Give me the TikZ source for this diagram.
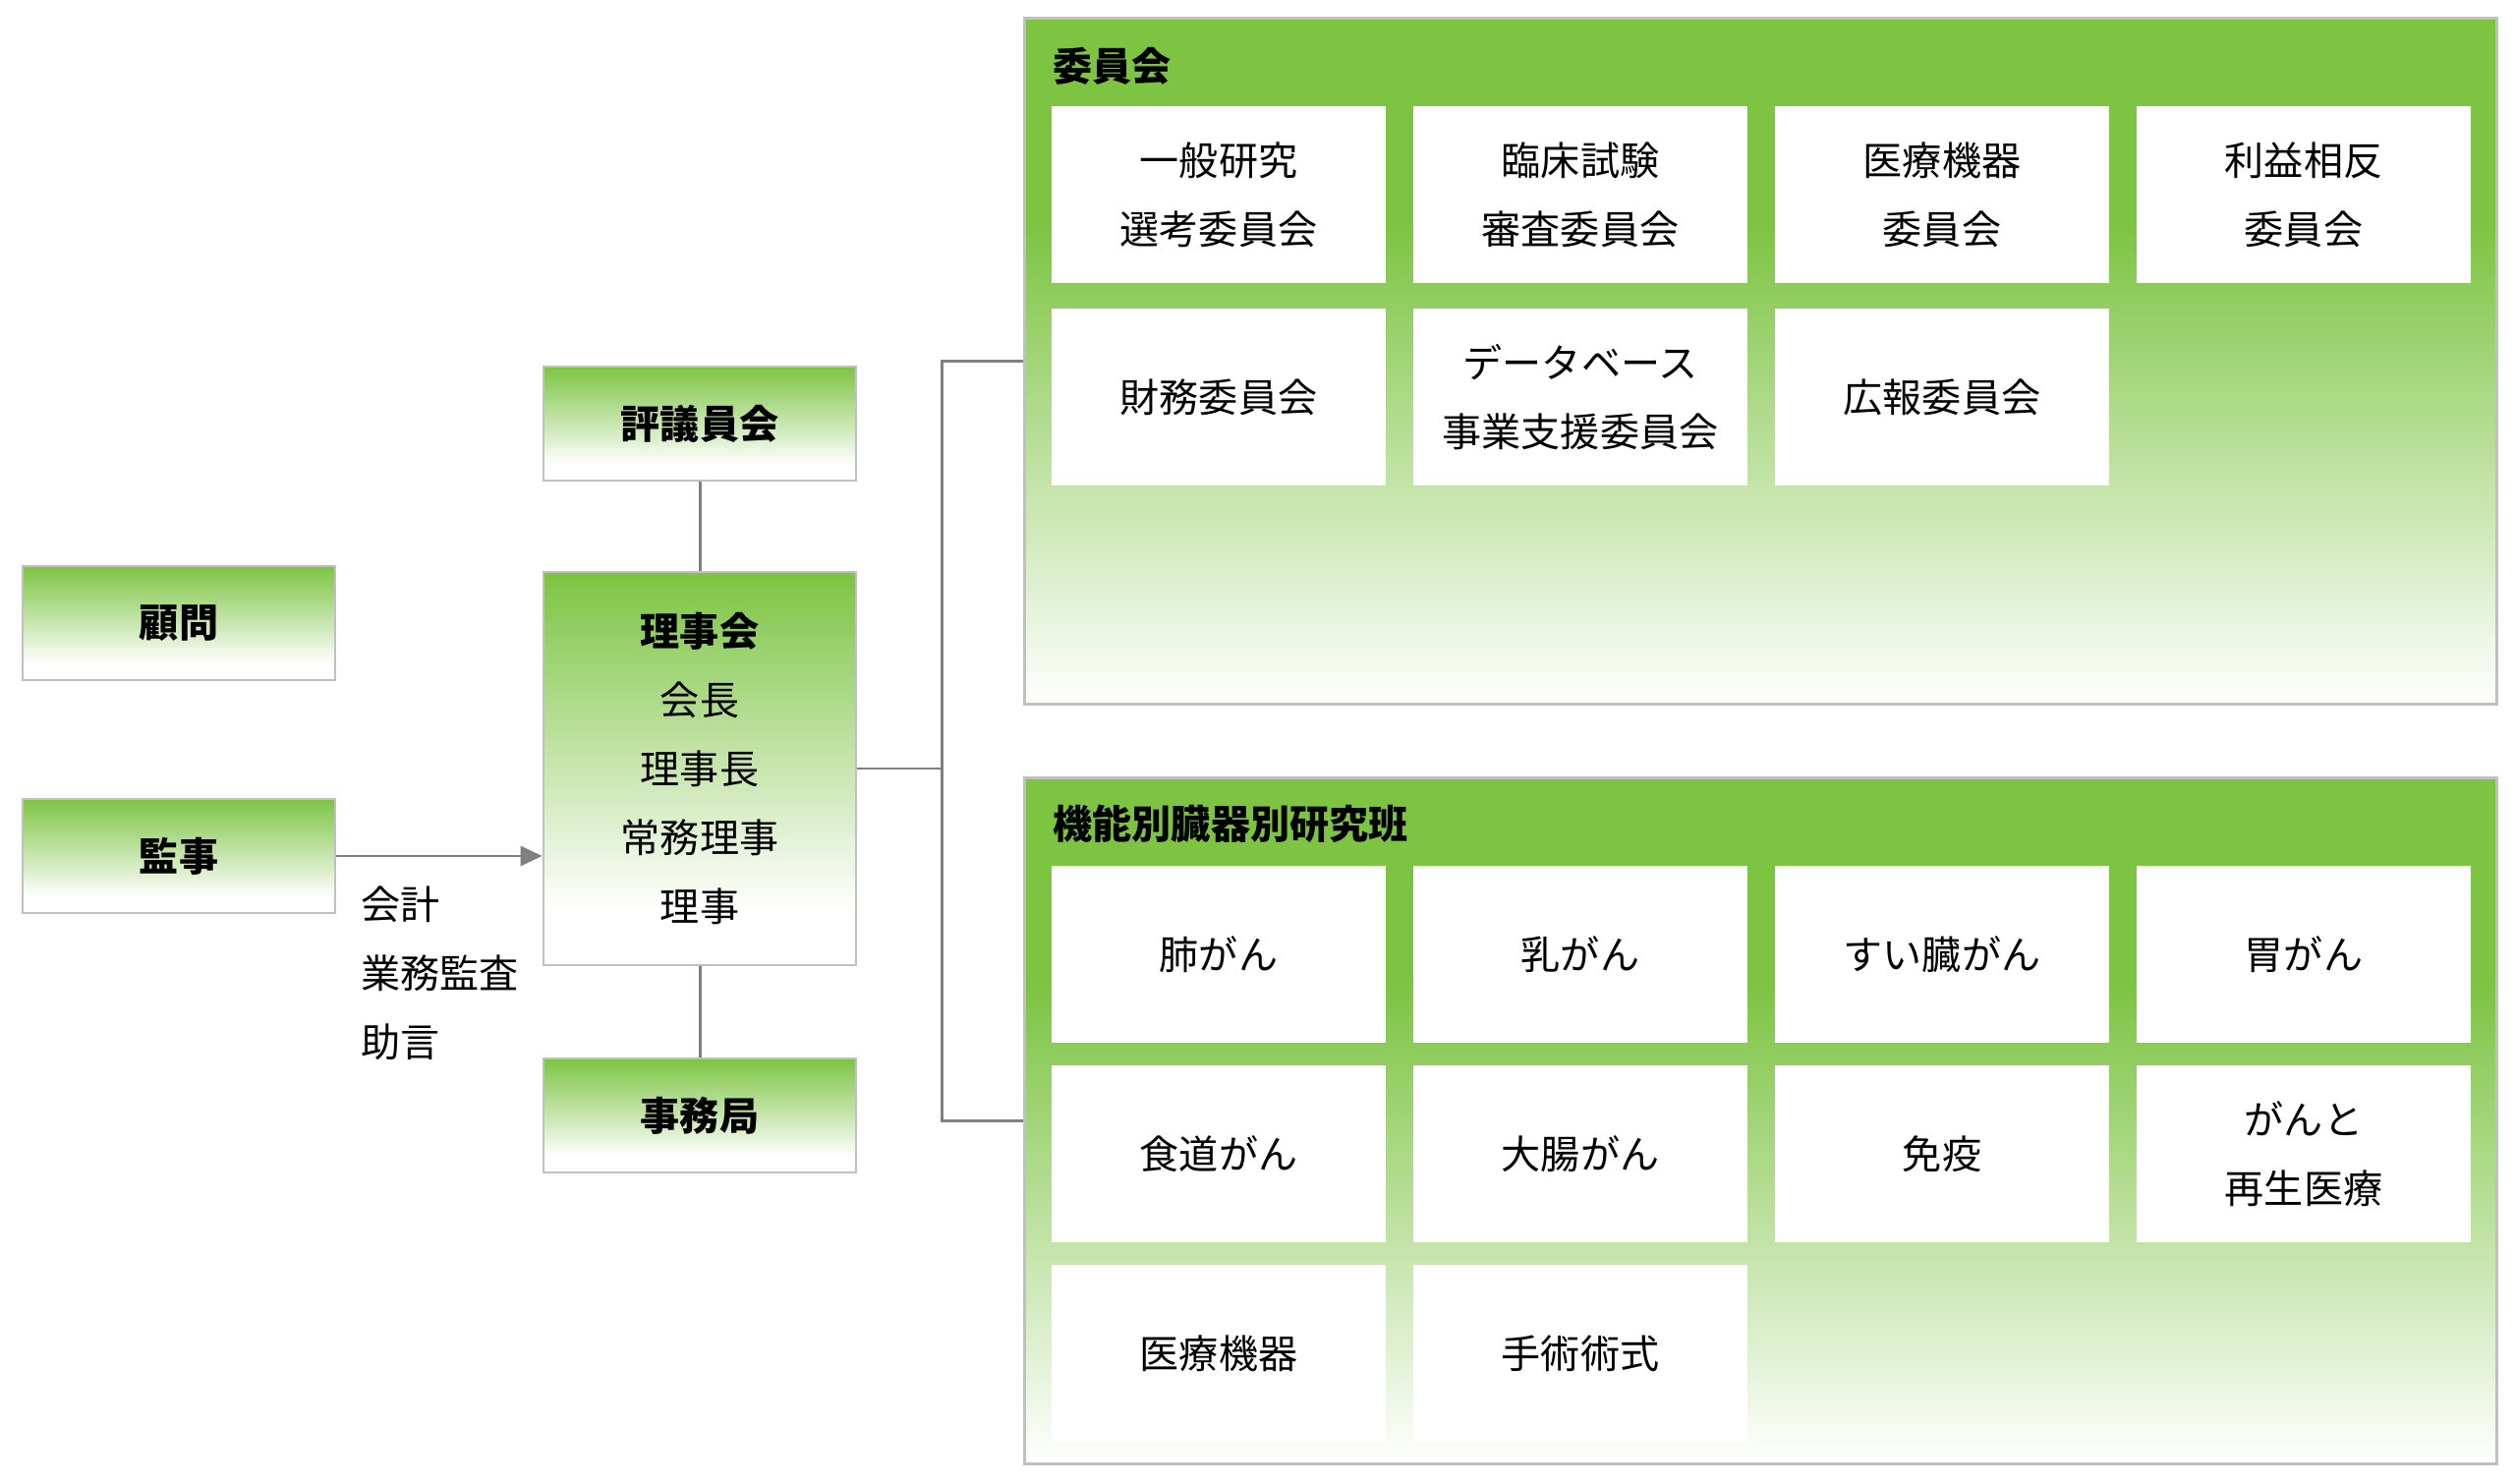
\documentclass[tikz,border=0pt]{standalone}
\usepackage{fontspec}
\setmainfont{Noto Sans CJK JP}
\usetikzlibrary{arrows.meta}

\definecolor{leafgreen}{RGB}{124,196,66}
\definecolor{boxline}{RGB}{192,192,192}
\definecolor{wiregray}{RGB}{128,128,128}

\pgfdeclareverticalshading{boxfade}{100bp}{color(0bp)=(white); color(32bp)=(white); color(75bp)=(leafgreen); color(100bp)=(leafgreen)}
\pgfdeclareverticalshading{bandfade}{100bp}{color(0bp)=(white); color(25bp)=(white); color(60bp)=(leafgreen); color(100bp)=(leafgreen)}

\newcommand{\orgsize}{\fontsize{11.4pt}{19.9pt}\selectfont}

\tikzset{
  orgbox/.style={draw=boxline, line width=0.7pt, shading=boxfade, minimum width=3.18cm,
    minimum height=1.16cm, inner sep=0pt, align=center, font=\bfseries\orgsize},
  groupbox/.style={draw=boxline, line width=0.7pt, shading=bandfade, minimum width=14.97cm,
    minimum height=6.98cm, inner sep=0pt},
  cell/.style={fill=white, minimum width=3.4cm, minimum height=1.8cm, inner sep=0pt,
    align=center, font=\orgsize},
  grouptitle/.style={anchor=west, inner sep=0pt, font=\bfseries\orgsize},
  wire/.style={draw=wiregray, line width=0.85pt},
}

\begin{document}
\begin{tikzpicture}[x=0.01cm, y=-0.01cm]
  \useasboundingbox (0,0) rectangle (2560,1510);

  % left column
  \node[orgbox] (komon) at (182,634) {顧問};
  \node[orgbox] (kanji) at (182,871) {監事};

  % board
  \node[orgbox] (hyogi) at (712,431) {評議員会};
  \node[orgbox, minimum height=4cm, font=\orgsize] (rijikai) at (712,782)
    {\textbf{理事会}\\会長\\理事長\\常務理事\\理事};
  \node[orgbox] (jimu) at (712,1135) {事務局};

  \draw[wire] (hyogi.south) -- (rijikai.north);
  \draw[wire] (rijikai.south) -- (jimu.north);
  \draw[wire, -{Triangle[length=0.22cm, width=0.2cm]}] (kanji.east) -- (kanji.east -| rijikai.west);
  \node[anchor=west, align=left, inner sep=0pt, font=\orgsize] (kansa) at (367,990)
    {会計\\業務監査\\助言};

  % groups
  \node[groupbox] (iinkai) at (1791.5,367.5) {};
  \node[groupbox] (kenkyu) at (1791.5,1140.5) {};
  \node[grouptitle] (iinkai-t) at (1071,67) {委員会};
  \node[grouptitle] (kenkyu-t) at (1071,838) {機能別臓器別研究班};

  \foreach \name/\col/\row/\txt in {i1/0/0/{一般研究\\選考委員会}, i2/1/0/{臨床試験\\審査委員会},
      i3/2/0/{医療機器\\委員会}, i4/3/0/{利益相反\\委員会}, i5/0/1/{財務委員会},
      i6/1/1/{データベース\\事業支援委員会}, i7/2/1/{広報委員会}}
    \node[cell] (\name) at ({1240+368*\col},{198+206*\row}) {\txt};

  \foreach \name/\col/\row/\txt in {k1/0/0/肺がん, k2/1/0/乳がん, k3/2/0/すい臓がん, k4/3/0/胃がん,
      k5/0/1/食道がん, k6/1/1/大腸がん, k7/2/1/免疫, k8/3/1/{がんと\\再生医療},
      k9/0/2/医療機器, k10/1/2/手術術式}
    \node[cell] (\name) at ({1240+368*\col},{971+203*\row}) {\txt};

  % bus to groups
  \coordinate (bus) at (958,782);
  \draw[wire] (rijikai.east) -- (bus);
  \draw[wire] (iinkai.west) -| (bus) |- (kenkyu.west);
\end{tikzpicture}
\end{document}
